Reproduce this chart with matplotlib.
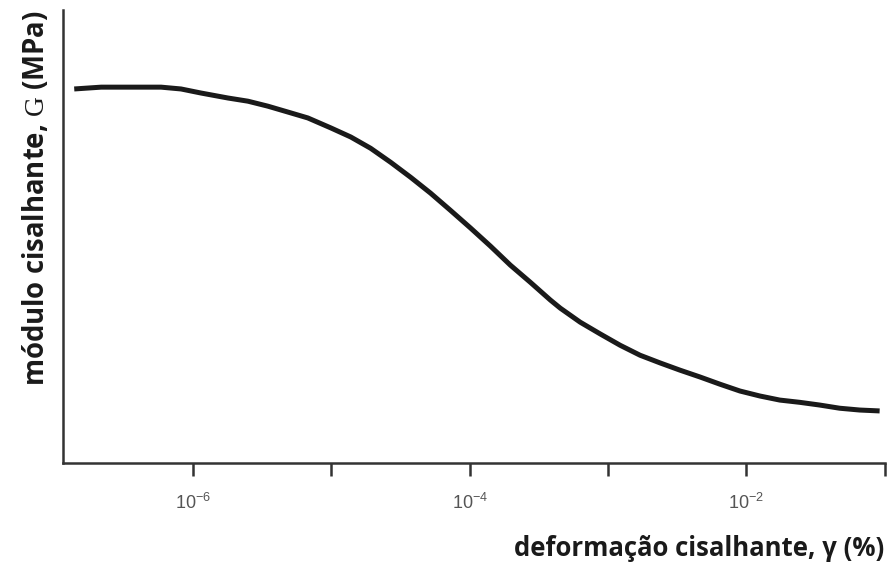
import matplotlib.pyplot as plt
import numpy as np

plt.rcParams['font.family'] = ['Open Sans', 'DejaVu Sans']
plt.rcParams['mathtext.fontset'] = 'custom'
plt.rcParams['mathtext.rm'] = 'Liberation Serif'

# curve: log10(strain), G (arbitrary units)
log_strain = [-6.859, -6.664, -6.469, -6.231, -6.087, -5.942, -5.747, -5.603,
              -5.459, -5.314, -5.170, -5.004, -4.860, -4.716, -4.571, -4.427,
              -4.283, -4.139, -3.994, -3.850, -3.706, -3.561, -3.417, -3.345,
              -3.201, -3.056, -2.912, -2.768, -2.623, -2.479, -2.335, -2.190,
              -2.046, -1.902, -1.758, -1.613, -1.469, -1.325, -1.180, -1.036]
g_mod = [82.6, 83.0, 83.0, 83.0, 82.6, 81.7, 80.6, 79.9, 78.8, 77.5, 76.2,
         74.0, 72.0, 69.5, 66.4, 63.1, 59.6, 55.8, 51.9, 47.9, 43.7, 39.9,
         36.0, 34.2, 31.1, 28.5, 26.0, 23.8, 22.1, 20.5, 19.0, 17.4, 15.9,
         14.8, 13.9, 13.4, 12.8, 12.1, 11.7, 11.5]

tick_pos = [1e-6, 1e-5, 1e-4, 1e-3, 1e-2, 1e-1]
tick_lab = [r'$\mathregular{10^{-6}}$', '', r'$\mathregular{10^{-4}}$', '',
            r'$\mathregular{10^{-2}}$', '']

fig = plt.figure(figsize=(8.94, 5.65), dpi=100)
ax = fig.add_axes([0.0705, 0.1805, 0.919, 0.8015])

ax.plot(10 ** np.array(log_strain), g_mod, color='#1a1a1a', lw=3.6,
        solid_capstyle='butt', solid_joinstyle='round')

ax.set_xscale('log')
ax.set_xlim(10 ** -6.94, 1e-1)
ax.set_ylim(0, 100)

ax.set_xticks(tick_pos)
ax.set_xticklabels(tick_lab, fontsize=13, color='#555555',
                   family='Liberation Sans')
ax.xaxis.set_minor_locator(plt.NullLocator())
ax.set_yticks([])
ax.tick_params(axis='x', direction='out', length=9.5, width=1.8,
               color='#333333', pad=12)

for s in ['top', 'right']:
    ax.spines[s].set_visible(False)
for s in ['left', 'bottom']:
    ax.spines[s].set_linewidth(1.8)
    ax.spines[s].set_color('#333333')

ax.set_xlabel('deformação cisalhante, γ (%)', fontsize=18.5,
              fontweight='bold', color='#1a1a1a', loc='right', labelpad=16)
ax.set_ylabel(r'módulo cisalhante, $\mathrm{G}$ (MPa)', fontsize=19.8,
              fontweight='bold', color='#1a1a1a', loc='top', labelpad=9)

fig.savefig('out.png', dpi=100)
